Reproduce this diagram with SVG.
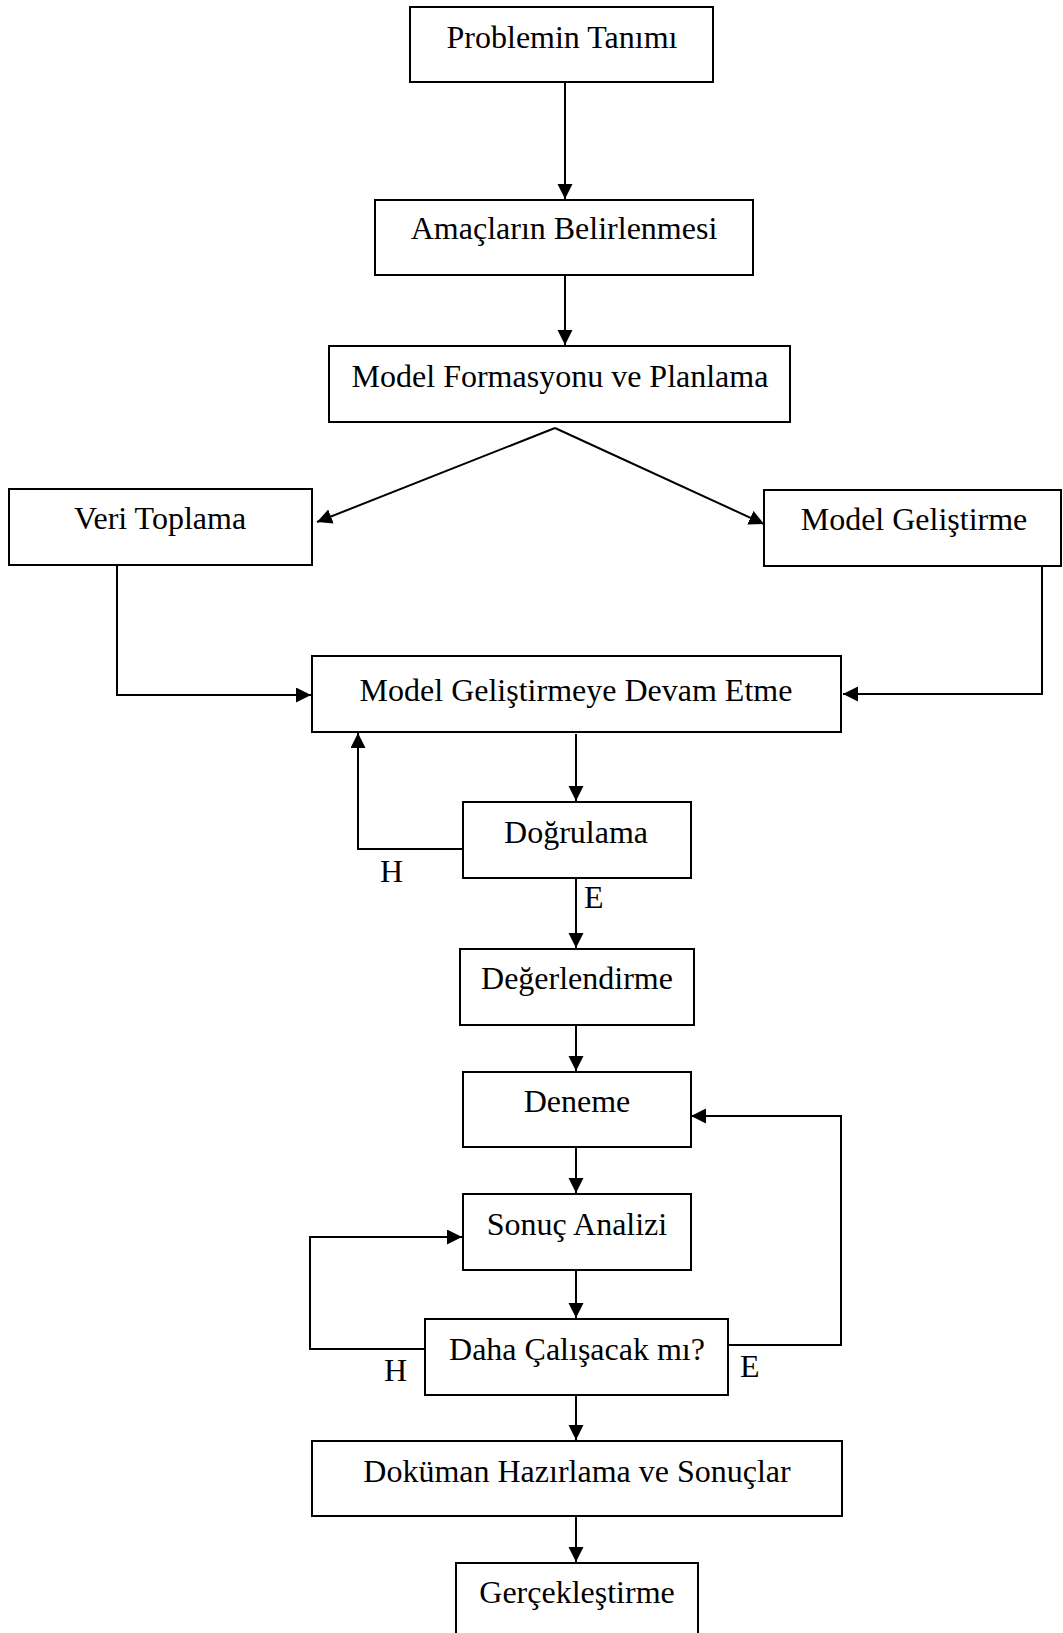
<svg xmlns="http://www.w3.org/2000/svg" width="1063" height="1633" viewBox="0 0 1063 1633">
<style>
.box{fill:#fff;stroke:#000;stroke-width:2}
.t{font-family:"Liberation Serif","Times New Roman",serif;font-size:32px;fill:#000;text-anchor:middle}
.lbl{font-family:"Liberation Serif","Times New Roman",serif;font-size:32px;fill:#000}
.c{fill:none;stroke:#000;stroke-width:2}
</style>
<defs>
<marker id="ah" markerUnits="userSpaceOnUse" markerWidth="16" markerHeight="16" refX="15" refY="7.5" orient="auto">
<path d="M0,0 L15,7.5 L0,15 z" fill="#000"/>
</marker>
</defs>
<rect width="1063" height="1633" fill="#fff"/>
<g id="connectors">
<path class="c" d="M565,82 V199" marker-end="url(#ah)"/>
<path class="c" d="M565,275 V345" marker-end="url(#ah)"/>
<path class="c" d="M555,428 L317,522" marker-end="url(#ah)"/>
<path class="c" d="M555,428 L764,524" marker-end="url(#ah)"/>
<path class="c" d="M117,565 V695 H311" marker-end="url(#ah)"/>
<path class="c" d="M1042,566 V694 H843" marker-end="url(#ah)"/>
<path class="c" d="M576,734 V801" marker-end="url(#ah)"/>
<path class="c" d="M463,849 H358 V733" marker-end="url(#ah)"/>
<path class="c" d="M576,878 V948" marker-end="url(#ah)"/>
<path class="c" d="M576,1025 V1071" marker-end="url(#ah)"/>
<path class="c" d="M576,1147 V1193" marker-end="url(#ah)"/>
<path class="c" d="M576,1270 V1318" marker-end="url(#ah)"/>
<path class="c" d="M576,1395 V1440" marker-end="url(#ah)"/>
<path class="c" d="M576,1516 V1562" marker-end="url(#ah)"/>
<path class="c" d="M728,1345 H841 V1116 H691" marker-end="url(#ah)"/>
<path class="c" d="M425,1349 H310 V1237 H462" marker-end="url(#ah)"/>
<text class="lbl" x="380" y="882">H</text>
<text class="lbl" x="584" y="908">E</text>
<text class="lbl" x="384" y="1381">H</text>
<text class="lbl" x="740" y="1377">E</text>
</g>
<g id="n1"><rect class="box" x="410" y="7" width="303" height="75"/><text class="t" x="562" y="48">Problemin Tanımı</text></g>
<g id="n2"><rect class="box" x="375" y="200" width="378" height="75"/><text class="t" x="564" y="239">Amaçların Belirlenmesi</text></g>
<g id="n3"><rect class="box" x="329" y="346" width="461" height="76"/><text class="t" x="560" y="387">Model Formasyonu ve Planlama</text></g>
<g id="n4"><rect class="box" x="9" y="489" width="303" height="76"/><text class="t" x="160" y="529">Veri Toplama</text></g>
<g id="n5"><rect class="box" x="764" y="490" width="297" height="76"/><text class="t" x="914" y="530">Model Geliştirme</text></g>
<g id="n6"><rect class="box" x="312" y="656" width="529" height="76"/><text class="t" x="576" y="701">Model Geliştirmeye Devam Etme</text></g>
<g id="n7"><rect class="box" x="463" y="802" width="228" height="76"/><text class="t" x="576" y="843">Doğrulama</text></g>
<g id="n8"><rect class="box" x="460" y="949" width="234" height="76"/><text class="t" x="577" y="989">Değerlendirme</text></g>
<g id="n9"><rect class="box" x="463" y="1072" width="228" height="75"/><text class="t" x="577" y="1112">Deneme</text></g>
<g id="n10"><rect class="box" x="463" y="1194" width="228" height="76"/><text class="t" x="577" y="1235">Sonuç Analizi</text></g>
<g id="n11"><rect class="box" x="425" y="1319" width="303" height="76"/><text class="t" x="577" y="1360">Daha Çalışacak mı?</text></g>
<g id="n12"><rect class="box" x="312" y="1441" width="530" height="75"/><text class="t" x="577" y="1482">Doküman Hazırlama ve Sonuçlar</text></g>
<g id="n13"><rect class="box" x="456" y="1563" width="242" height="80"/><text class="t" x="577" y="1603">Gerçekleştirme</text></g>
</svg>
